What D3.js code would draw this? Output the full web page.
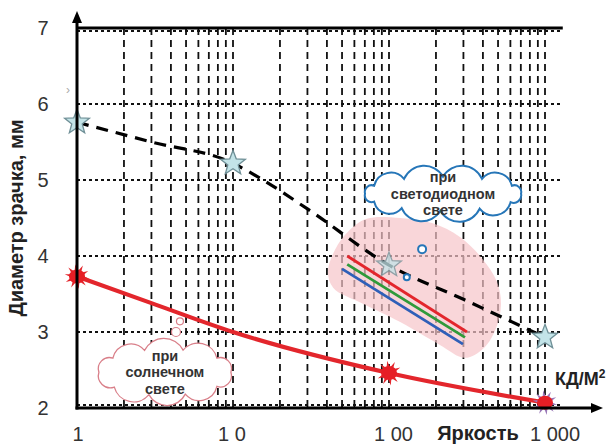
<!DOCTYPE html>
<html><head><meta charset="utf-8">
<script src="https://cdn.jsdelivr.net/npm/d3@7"></script>
<style>body{margin:0;background:#fff}</style>
</head><body><svg id="c" width="609" height="446"></svg>
<script>
// ---- data ----
const yTickValues = [2, 3, 4, 5, 6, 7];
const xTickValues = [1, 10, 100, 1000];
const xTickLabels = ["1", "1 0", "1 00", "1 000"];
const gridValues = [2,3,4,5,6,7,8,9,10,20,30,40,50,60,70,80,90,100,200,300,400,500,600,700,800,900,1000];

// dashed curve (LED light) with star markers
const ledX = [1, 3, 10, 15, 30, 100, 300, 1000];
const ledY = [5.76, 5.50, 5.22, 5.02, 4.62, 3.88, 3.43, 2.93];
const ledMarkX = [1, 10, 100, 1000];
const ledMarkY = [5.76, 5.22, 3.88, 2.93];

// solid red curve (sunlight) with burst markers
const sunX = [1, 3, 10, 100, 1000];
const sunY = [3.73, 3.38, 3.0, 2.46, 2.07];
const sunMarkX = [1, 100, 1000];
const sunMarkY = [3.73, 2.46, 2.07];

// three coloured segments in the pink region
const redSegX = [54, 316],   redSegY = [4.0, 3.0];
const greenSegX = [54, 307], greenSegY = [3.89, 2.93];
const blueSegX = [50, 298],  blueSegY = [3.83, 2.84];

// pink region outline
const blobX = [72, 118, 191, 285, 394, 492, 522, 485, 406, 307, 212, 118, 65, 44, 40.6, 45, 54.6];
const blobY = [4.49, 4.50, 4.43, 4.25, 3.97, 3.66, 3.36, 3.05, 2.79, 2.66, 2.83, 3.13, 3.39, 3.58, 3.79, 4.08, 4.32];

// callouts
const ledCloudText = ["при", "светодиодном", "свете"];
const sunCloudText = ["при", "солнечном", "свете"];
const ledCloudAt = [222, 4.82];
const sunCloudAt = [3.66, 2.47];
const ledBubbleX = [163, 130], ledBubbleY = [4.09, 3.72];
const sunBubbleX = [4.57, 4.31], sunBubbleY = [3.14, 3.0];

const yTitle = "Диаметр зрачка, мм";
const xTitle = "Яркость";
const unitText = "КД/М";

// ---- drawing ----
const svg = d3.select("#c");
const x = d3.scaleLog().domain([1, 1000]).range([77, 545]);
const y = d3.scaleLinear().domain([2, 7]).range([408, 28]);
const xEnd = x(1300);

// vertical dashed grid
svg.append("g").selectAll("line").data(gridValues).join("line")
  .attr("x1", d => x(d)).attr("x2", d => x(d))
  .attr("y1", y(7)).attr("y2", y(2))
  .attr("stroke", "#111").attr("stroke-width", 1.8)
  .attr("stroke-dasharray", "7,5");

// horizontal dotted grid
svg.append("g").selectAll("line").data(yTickValues).join("line")
  .attr("x1", x(1)).attr("x2", xEnd)
  .attr("y1", d => y(d) + (d === 7 ? 3 : d === 2 ? -3 : 0))
  .attr("y2", d => y(d) + (d === 7 ? 3 : d === 2 ? -3 : 0))
  .attr("stroke", "#111").attr("stroke-width", 2)
  .attr("stroke-dasharray", "3,3");

// top solid line
svg.append("line").attr("x1", x(1)).attr("x2", xEnd)
  .attr("y1", y(7)).attr("y2", y(7))
  .attr("stroke", "#000").attr("stroke-width", 3);

// pink region
const blobPts = blobX.map((v, i) => [x(v), y(blobY[i])]);
svg.append("path")
  .attr("d", d3.line().curve(d3.curveCatmullRomClosed.alpha(0.5))(blobPts))
  .attr("fill", "#f6c4c9").attr("opacity", 0.7);

// coloured segments
function seg(xs, ys, col) {
  svg.append("line")
    .attr("x1", x(xs[0])).attr("y1", y(ys[0]))
    .attr("x2", x(xs[1])).attr("y2", y(ys[1]))
    .attr("stroke", col).attr("stroke-width", 2.8);
}
seg(redSegX, redSegY, "#e3262c");
seg(greenSegX, greenSegY, "#2f9a3a");
seg(blueSegX, blueSegY, "#2f5fb8");

// dashed black curve
const curveLine = d3.line().x(d => x(d[0])).y(d => y(d[1])).curve(d3.curveMonotoneX);
svg.append("path").attr("d", curveLine(ledX.map((v, i) => [v, ledY[i]])))
  .attr("fill", "none").attr("stroke", "#000").attr("stroke-width", 3.2)
  .attr("stroke-dasharray", "12,8");

// star markers
function starPath(R, r) {
  const p = [];
  for (let i = 0; i < 10; i++) {
    const a = (-90 + i * 36) * Math.PI / 180, rr = i % 2 ? r : R;
    p.push([rr * Math.cos(a), rr * Math.sin(a)]);
  }
  return "M" + p.map(q => q.join(",")).join("L") + "Z";
}
svg.append("g").selectAll("path").data(ledMarkX).join("path")
  .attr("d", starPath(13, 5.5))
  .attr("transform", (d, i) => `translate(${x(d)},${y(ledMarkY[i])})`)
  .attr("fill", "#c3e4e8").attr("stroke", "#6f8f96").attr("stroke-width", 1.3)
  .attr("opacity", (d, i) => i === 2 ? 0.75 : 1);

// red curve
svg.append("path").attr("d", curveLine(sunX.map((v, i) => [v, sunY[i]])))
  .attr("fill", "none").attr("stroke", "#e3262c").attr("stroke-width", 4.2);

// burst markers
function burstPath() {
  let s = "";
  const n = 10;
  for (let i = 0; i < n; i++) {
    const a = (i * 360 / n + 10) * Math.PI / 180;
    const ca = Math.cos(a), sa = Math.sin(a);
    const px = -sa, py = ca;
    const b = 5, t = 12.5, w = 1.8;
    s += `M${b*ca+w*px},${b*sa+w*py}L${t*ca},${t*sa}L${b*ca-w*px},${b*sa-w*py}Z`;
  }
  return s;
}
const bursts = svg.append("g").selectAll("g").data(sunMarkX).join("g")
  .attr("transform", (d, i) => `translate(${x(d)},${y(sunMarkY[i])})`);
bursts.append("path").attr("d", burstPath())
  .attr("fill", (d, i) => i === 2 ? "#9a78b8" : "#e3262c");
bursts.append("ellipse").attr("rx", 8).attr("ry", 7).attr("fill", "#e61e25");

// clouds
function cloudPath(cx, cy, rx, ry, angles, k) {
  const pts = angles.map(a => {
    const t = a * Math.PI / 180;
    return [cx + rx * Math.cos(t), cy + ry * Math.sin(t)];
  });
  let d = `M${pts[0][0]},${pts[0][1]}`;
  for (let i = 0; i < pts.length; i++) {
    const p = pts[i], q = pts[(i + 1) % pts.length];
    const c = Math.hypot(q[0] - p[0], q[1] - p[1]);
    const r = c * k;
    d += `A${r},${r} 0 0 1 ${q[0]},${q[1]}`;
  }
  return d + "Z";
}
function cloud(at, rx, ry, angles, stroke, sw, lines, dyc) {
  const cx = x(at[0]), cy = y(at[1]);
  svg.append("path").attr("d", cloudPath(cx, cy, rx, ry, angles, 0.56))
    .attr("fill", "#fff").attr("stroke", stroke).attr("stroke-width", sw);
  svg.append("g").selectAll("text").data(lines).join("text")
    .attr("x", cx).attr("y", (d, i) => cy + dyc + (i - 1) * 16.5)
    .attr("dy", "0.35em").attr("text-anchor", "middle")
    .attr("font-family", "Liberation Sans, Arial, sans-serif")
    .attr("font-weight", "bold").attr("font-size", 14.5).attr("fill", "#333")
    .text(d => d);
}
cloud(sunCloudAt, 66, 23, [0, 38, 72, 104, 140, 180, 218, 252, 286, 322], "#d97f89", 1.3, sunCloudText, 0);
cloud(ledCloudAt, 78, 17, [0, 30, 62, 92, 122, 152, 180, 208, 240, 270, 300, 332], "#2676b8", 2, ledCloudText, 0);

svg.append("g").selectAll("circle").data(sunBubbleX).join("circle")
  .attr("cx", d => x(d)).attr("cy", (d, i) => y(sunBubbleY[i]))
  .attr("r", (d, i) => i ? 4.5 : 3.5)
  .attr("fill", "#fff").attr("stroke", "#d97f89").attr("stroke-width", 1.2);
svg.append("g").selectAll("circle").data(ledBubbleX).join("circle")
  .attr("cx", d => x(d)).attr("cy", (d, i) => y(ledBubbleY[i]))
  .attr("r", (d, i) => i ? 3 : 4)
  .attr("fill", "#fff").attr("stroke", "#2676b8").attr("stroke-width", 2);

// axes with arrows
svg.append("line").attr("x1", x(1)).attr("x2", x(1)).attr("y1", y(2) + 1.5).attr("y2", 20)
  .attr("stroke", "#000").attr("stroke-width", 3);
svg.append("path").attr("d", `M${x(1)},11L${x(1) - 5},23L${x(1) + 5},23Z`).attr("fill", "#000");
svg.append("line").attr("x1", x(1) - 1.5).attr("x2", 594).attr("y1", y(2)).attr("y2", y(2))
  .attr("stroke", "#000").attr("stroke-width", 3);
svg.append("path").attr("d", `M603,${y(2)}L591,${y(2) - 5}L591,${y(2) + 5}Z`).attr("fill", "#000");

// tick labels
svg.append("g").selectAll("text").data(yTickValues).join("text")
  .attr("x", x(1) - 34).attr("y", d => y(d)).attr("dy", "0.36em")
  .attr("text-anchor", "middle")
  .attr("font-family", "Liberation Sans, Arial, sans-serif").attr("font-size", 20)
  .attr("fill", "#333").text(d => d);
svg.append("g").selectAll("text").data(xTickValues).join("text")
  .attr("x", (d, i) => i === 0 ? x(d) + 1 : x(d) - 15).attr("y", 441)
  .attr("text-anchor", (d, i) => i === 0 ? "middle" : "start")
  .attr("font-family", "Liberation Sans, Arial, sans-serif").attr("font-size", 20)
  .attr("fill", "#333").text((d, i) => xTickLabels[i]);

// titles
svg.append("text").attr("transform", "translate(23,218) rotate(-90)")
  .attr("text-anchor", "middle")
  .attr("font-family", "Liberation Sans, Arial, sans-serif").attr("font-weight", "bold")
  .attr("font-size", 20).attr("fill", "#222").text(yTitle);
svg.append("text").attr("x", 478).attr("y", 440).attr("text-anchor", "middle")
  .attr("font-family", "Liberation Sans, Arial, sans-serif").attr("font-weight", "bold")
  .attr("font-size", 20).attr("fill", "#222").text(xTitle);
const u = svg.append("text").attr("x", 555).attr("y", 385)
  .attr("font-family", "Liberation Sans, Arial, sans-serif").attr("font-weight", "bold")
  .attr("font-size", 18).attr("fill", "#222").text(unitText);
u.append("tspan").attr("font-size", 12).attr("dy", -7).text("2");

svg.append("text").attr("x", 66).attr("y", 94).attr("font-size", 12)
  .attr("font-family", "Liberation Sans, Arial, sans-serif").attr("fill", "#aaa").text("›");
</script></body></html>
